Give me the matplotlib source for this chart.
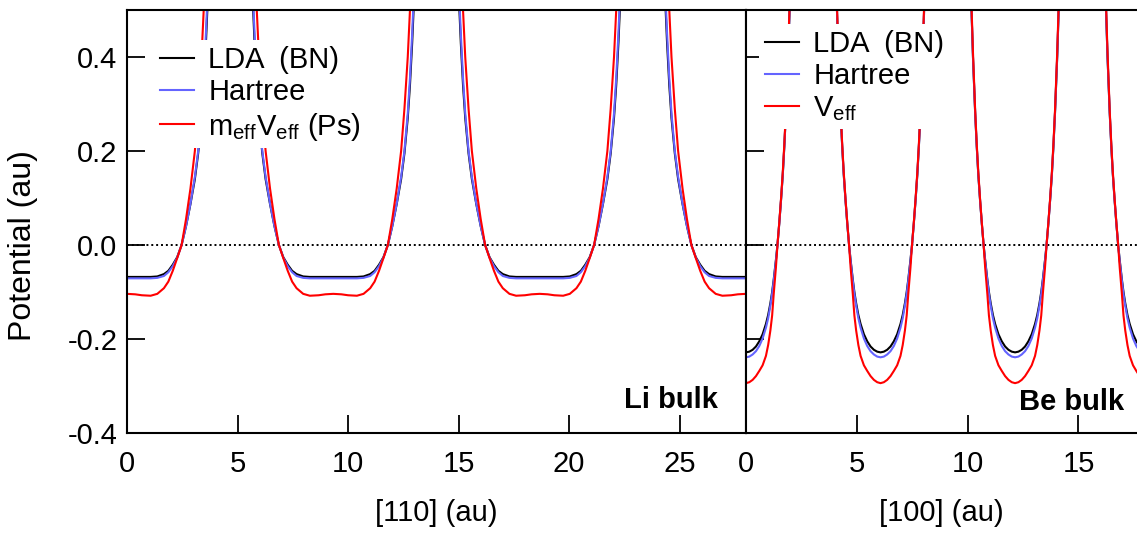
import matplotlib
matplotlib.use("Agg")
import matplotlib.pyplot as plt

plt.rcParams["font.family"] = ["Liberation Sans", "DejaVu Sans"]
plt.rcParams["mathtext.fontset"] = "custom"
plt.rcParams["mathtext.rm"] = "Liberation Sans"
plt.rcParams["mathtext.default"] = "rm"

# ---- Li bulk, [110] direction ----
li_x = [
    0.00, 0.37, 0.67, 1.07, 1.37, 1.67, 1.87, 2.07, 2.27, 2.47, 2.67, 2.87, 3.07, 3.22, 3.37, 3.47, 3.57, 3.67, 3.77,
    5.57, 5.67, 5.77, 5.87, 5.97, 6.12, 6.27, 6.47, 6.67, 6.87, 7.07, 7.27, 7.47, 7.67, 7.97, 8.27, 8.67, 8.97, 9.33,
    9.70, 10.00, 10.40, 10.70, 11.00, 11.20, 11.40, 11.60, 11.80, 12.00, 12.20, 12.40, 12.55, 12.70, 12.80, 12.90, 13.00, 13.10,
    14.90, 15.00, 15.10, 15.20, 15.30, 15.45, 15.60, 15.80, 16.00, 16.20, 16.40, 16.60, 16.80, 17.00, 17.30, 17.60, 18.00, 18.30, 18.67,
    19.03, 19.33, 19.73, 20.03, 20.33, 20.53, 20.73, 20.93, 21.13, 21.33, 21.53, 21.73, 21.88, 22.03, 22.13, 22.23, 22.33, 22.43,
    24.23, 24.33, 24.43, 24.53, 24.63, 24.78, 24.93, 25.13, 25.33, 25.53, 25.73, 25.93, 26.13, 26.33, 26.63, 26.93, 27.33, 27.63, 28.00,
]
li_lda = [
    -0.068, -0.068, -0.068, -0.068, -0.067, -0.062, -0.055, -0.042, -0.026, 0.000, 0.040, 0.087, 0.140, 0.195, 0.270, 0.340, 0.430, 0.540, 0.680,
    0.680, 0.540, 0.430, 0.340, 0.270, 0.195, 0.140, 0.087, 0.040, 0.000, -0.026, -0.042, -0.055, -0.062, -0.067, -0.068, -0.068, -0.068, -0.068,
    -0.068, -0.068, -0.068, -0.067, -0.062, -0.055, -0.042, -0.026, 0.000, 0.040, 0.087, 0.140, 0.195, 0.270, 0.340, 0.430, 0.540, 0.680,
    0.680, 0.540, 0.430, 0.340, 0.270, 0.195, 0.140, 0.087, 0.040, 0.000, -0.026, -0.042, -0.055, -0.062, -0.067, -0.068, -0.068, -0.068, -0.068,
    -0.068, -0.068, -0.068, -0.067, -0.062, -0.055, -0.042, -0.026, 0.000, 0.040, 0.087, 0.140, 0.195, 0.270, 0.340, 0.430, 0.540, 0.680,
    0.680, 0.540, 0.430, 0.340, 0.270, 0.195, 0.140, 0.087, 0.040, 0.000, -0.026, -0.042, -0.055, -0.062, -0.067, -0.068, -0.068, -0.068, -0.068,
]
li_hartree = [
    -0.071, -0.071, -0.071, -0.071, -0.070, -0.066, -0.058, -0.045, -0.027, 0.000, 0.040, 0.088, 0.145, 0.200, 0.280, 0.355, 0.450, 0.560, 0.700,
    0.700, 0.560, 0.450, 0.355, 0.280, 0.200, 0.145, 0.088, 0.040, 0.000, -0.027, -0.045, -0.058, -0.066, -0.070, -0.071, -0.071, -0.071, -0.071,
    -0.071, -0.071, -0.071, -0.070, -0.066, -0.058, -0.045, -0.027, 0.000, 0.040, 0.088, 0.145, 0.200, 0.280, 0.355, 0.450, 0.560, 0.700,
    0.700, 0.560, 0.450, 0.355, 0.280, 0.200, 0.145, 0.088, 0.040, 0.000, -0.027, -0.045, -0.058, -0.066, -0.070, -0.071, -0.071, -0.071, -0.071,
    -0.071, -0.071, -0.071, -0.070, -0.066, -0.058, -0.045, -0.027, 0.000, 0.040, 0.088, 0.145, 0.200, 0.280, 0.355, 0.450, 0.560, 0.700,
    0.700, 0.560, 0.450, 0.355, 0.280, 0.200, 0.145, 0.088, 0.040, 0.000, -0.027, -0.045, -0.058, -0.066, -0.070, -0.071, -0.071, -0.071, -0.071,
]
li_ps = [
    -0.104, -0.105, -0.107, -0.108, -0.104, -0.092, -0.078, -0.055, -0.028, 0.000, 0.055, 0.120, 0.200, 0.290, 0.400, 0.500, 0.630, 0.780, 0.950,
    0.950, 0.780, 0.630, 0.500, 0.400, 0.290, 0.200, 0.120, 0.055, 0.000, -0.028, -0.055, -0.078, -0.092, -0.104, -0.108, -0.107, -0.105, -0.104,
    -0.105, -0.107, -0.108, -0.104, -0.092, -0.078, -0.055, -0.028, 0.000, 0.055, 0.120, 0.200, 0.290, 0.400, 0.500, 0.630, 0.780, 0.950,
    0.950, 0.780, 0.630, 0.500, 0.400, 0.290, 0.200, 0.120, 0.055, 0.000, -0.028, -0.055, -0.078, -0.092, -0.104, -0.108, -0.107, -0.105, -0.104,
    -0.105, -0.107, -0.108, -0.104, -0.092, -0.078, -0.055, -0.028, 0.000, 0.055, 0.120, 0.200, 0.290, 0.400, 0.500, 0.630, 0.780, 0.950,
    0.950, 0.780, 0.630, 0.500, 0.400, 0.290, 0.200, 0.120, 0.055, 0.000, -0.028, -0.055, -0.078, -0.092, -0.104, -0.108, -0.107, -0.105, -0.104,
]

# ---- Be bulk, [100] direction ----
be_x = [
    0.00, 0.15, 0.30, 0.45, 0.60, 0.75, 0.90, 1.00, 1.10, 1.18, 1.25, 1.35, 1.42, 1.50, 1.58, 1.66, 1.73, 1.80, 1.90, 1.96, 2.10, 2.30,
    3.77, 3.97, 4.11, 4.17, 4.27, 4.34, 4.41, 4.49, 4.57, 4.65, 4.72, 4.82, 4.89, 4.97, 5.07, 5.17, 5.32, 5.47, 5.62, 5.77, 5.92, 6.07,
    6.22, 6.37, 6.52, 6.67, 6.82, 6.97, 7.07, 7.17, 7.25, 7.32, 7.42, 7.49, 7.57, 7.65, 7.73, 7.80, 7.87, 7.97, 8.03, 8.17, 8.37,
    9.84, 10.04, 10.18, 10.24, 10.34, 10.41, 10.48, 10.56, 10.64, 10.72, 10.79, 10.89, 10.96, 11.04, 11.14, 11.24, 11.39, 11.54, 11.69, 11.84, 11.99, 12.14,
    12.29, 12.44, 12.59, 12.74, 12.89, 13.04, 13.14, 13.24, 13.32, 13.39, 13.49, 13.56, 13.64, 13.72, 13.80, 13.87, 13.94, 14.04, 14.10, 14.24, 14.44,
    15.91, 16.11, 16.25, 16.31, 16.41, 16.48, 16.55, 16.63, 16.71, 16.79, 16.86, 16.96, 17.03, 17.11, 17.21, 17.31, 17.46, 17.61, 17.76,
]
be_lda = [
    -0.2285, -0.227, -0.223, -0.216, -0.205, -0.190, -0.168, -0.149, -0.124, -0.100, -0.074, -0.032, 0.000, 0.045, 0.095, 0.150, 0.210, 0.280, 0.400, 0.490, 0.750, 1.200,
    1.200, 0.750, 0.490, 0.400, 0.280, 0.210, 0.150, 0.095, 0.045, 0.000, -0.032, -0.074, -0.100, -0.124, -0.149, -0.168, -0.190, -0.205, -0.216, -0.223, -0.227, -0.2285,
    -0.227, -0.223, -0.216, -0.205, -0.190, -0.168, -0.149, -0.124, -0.100, -0.074, -0.032, 0.000, 0.045, 0.095, 0.150, 0.210, 0.280, 0.400, 0.490, 0.750, 1.200,
    1.200, 0.750, 0.490, 0.400, 0.280, 0.210, 0.150, 0.095, 0.045, 0.000, -0.032, -0.074, -0.100, -0.124, -0.149, -0.168, -0.190, -0.205, -0.216, -0.223, -0.227, -0.2285,
    -0.227, -0.223, -0.216, -0.205, -0.190, -0.168, -0.149, -0.124, -0.100, -0.074, -0.032, 0.000, 0.045, 0.095, 0.150, 0.210, 0.280, 0.400, 0.490, 0.750, 1.200,
    1.200, 0.750, 0.490, 0.400, 0.280, 0.210, 0.150, 0.095, 0.045, 0.000, -0.032, -0.074, -0.100, -0.124, -0.149, -0.168, -0.190, -0.205, -0.216,
]
be_hartree = [
    -0.239, -0.2375, -0.233, -0.226, -0.215, -0.199, -0.176, -0.156, -0.129, -0.104, -0.077, -0.034, 0.000, 0.045, 0.095, 0.150, 0.210, 0.280, 0.400, 0.490, 0.750, 1.200,
    1.200, 0.750, 0.490, 0.400, 0.280, 0.210, 0.150, 0.095, 0.045, 0.000, -0.034, -0.077, -0.104, -0.129, -0.156, -0.176, -0.199, -0.215, -0.226, -0.233, -0.2375, -0.239,
    -0.2375, -0.233, -0.226, -0.215, -0.199, -0.176, -0.156, -0.129, -0.104, -0.077, -0.034, 0.000, 0.045, 0.095, 0.150, 0.210, 0.280, 0.400, 0.490, 0.750, 1.200,
    1.200, 0.750, 0.490, 0.400, 0.280, 0.210, 0.150, 0.095, 0.045, 0.000, -0.034, -0.077, -0.104, -0.129, -0.156, -0.176, -0.199, -0.215, -0.226, -0.233, -0.2375, -0.239,
    -0.2375, -0.233, -0.226, -0.215, -0.199, -0.176, -0.156, -0.129, -0.104, -0.077, -0.034, 0.000, 0.045, 0.095, 0.150, 0.210, 0.280, 0.400, 0.490, 0.750, 1.200,
    1.200, 0.750, 0.490, 0.400, 0.280, 0.210, 0.150, 0.095, 0.045, 0.000, -0.034, -0.077, -0.104, -0.129, -0.156, -0.176, -0.199, -0.215, -0.226,
]
be_veff = [
    -0.294, -0.292, -0.287, -0.279, -0.268, -0.256, -0.236, -0.213, -0.182, -0.150, -0.105, -0.048, 0.000, 0.047, 0.098, 0.155, 0.215, 0.285, 0.410, 0.500, 0.770, 1.250,
    1.250, 0.770, 0.500, 0.410, 0.285, 0.215, 0.155, 0.098, 0.047, 0.000, -0.048, -0.105, -0.150, -0.182, -0.213, -0.236, -0.256, -0.268, -0.279, -0.287, -0.292, -0.294,
    -0.292, -0.287, -0.279, -0.268, -0.256, -0.236, -0.213, -0.182, -0.150, -0.105, -0.048, 0.000, 0.047, 0.098, 0.155, 0.215, 0.285, 0.410, 0.500, 0.770, 1.250,
    1.250, 0.770, 0.500, 0.410, 0.285, 0.215, 0.155, 0.098, 0.047, 0.000, -0.048, -0.105, -0.150, -0.182, -0.213, -0.236, -0.256, -0.268, -0.279, -0.287, -0.292, -0.294,
    -0.292, -0.287, -0.279, -0.268, -0.256, -0.236, -0.213, -0.182, -0.150, -0.105, -0.048, 0.000, 0.047, 0.098, 0.155, 0.215, 0.285, 0.410, 0.500, 0.770, 1.250,
    1.250, 0.770, 0.500, 0.410, 0.285, 0.215, 0.155, 0.098, 0.047, 0.000, -0.048, -0.105, -0.150, -0.182, -0.213, -0.236, -0.256, -0.268, -0.279,
]

y_ticks = [-0.4, -0.2, 0.0, 0.2, 0.4]
y_ticklabels = ["-0.4", "-0.2", "0.0", "0.2", "0.4"]
li_xticks = [0, 5, 10, 15, 20, 25]
be_xticks = [0, 5, 10, 15]

BLUE = "#6464ff"
RED = "#ff0000"
FS = 21

fig = plt.figure(figsize=(11.37, 5.35), dpi=100)
ax1 = fig.add_axes([0.1117, 0.1907, 0.5444, 0.7907])
ax2 = fig.add_axes([0.6561, 0.1907, 0.3439, 0.7907])


def style(ax, xmax, xticks):
    ax.set_xlim(0, xmax)
    ax.set_ylim(-0.4, 0.5)
    ax.axhline(0, color="black", ls=(0, (1, 1.5)), lw=1.4, zorder=1)
    ax.set_xticks(xticks)
    ax.set_yticks(y_ticks)
    ax.tick_params(direction="in", length=13, width=1.3, labelsize=FS)
    ax.tick_params(axis="x", pad=12)
    ax.tick_params(axis="y", pad=7)
    for s in ax.spines.values():
        s.set_linewidth(1.5)


# left panel: Li
ax1.plot(li_x, li_lda, color="black", lw=1.5, label="LDA  (BN)", zorder=2)
ax1.plot(li_x, li_hartree, color=BLUE, lw=1.5, label="Hartree", zorder=2)
ax1.plot(li_x, li_ps, color=RED, lw=1.5, label=r"$m_{eff}V_{eff}$ (Ps)", zorder=2)
style(ax1, 28.0, li_xticks)
ax1.set_yticklabels(y_ticklabels)
ax1.set_xlabel("[110] (au)", fontsize=FS)
ax1.xaxis.set_label_coords(0.5, -0.156)
ax1.set_ylabel("Potential (au)", fontsize=23)
ax1.yaxis.set_label_coords(-0.143, 0.444)
ax1.text(0.955, 0.059, "Li bulk", transform=ax1.transAxes, ha="right",
         va="baseline", fontsize=FS, fontweight="bold")
leg1 = ax1.legend(loc="upper left", bbox_to_anchor=(0.044, 0.929), fontsize=FS,
                  frameon=True, fancybox=False, framealpha=1, borderpad=0.2,
                  borderaxespad=0, handlelength=1.15, handletextpad=0.5,
                  labelspacing=0.15)
leg1.get_frame().set_edgecolor("none")

# right panel: Be
ax2.plot(be_x, be_lda, color="black", lw=1.5, label="LDA  (BN)", zorder=2)
ax2.plot(be_x, be_hartree, color=BLUE, lw=1.5, label="Hartree", zorder=2)
ax2.plot(be_x, be_veff, color=RED, lw=1.5, label=r"$V_{eff}$", zorder=2)
style(ax2, 17.64, be_xticks)
ax2.set_yticklabels([])
ax2.spines["right"].set_visible(False)
ax2.set_xlabel("[100] (au)", fontsize=FS)
ax2.xaxis.set_label_coords(0.5, -0.156)
ax2.text(0.967, 0.054, "Be bulk", transform=ax2.transAxes, ha="right",
         va="baseline", fontsize=FS, fontweight="bold")
leg2 = ax2.legend(loc="upper left", bbox_to_anchor=(0.034, 0.967), fontsize=FS,
                  frameon=True, fancybox=False, framealpha=1, borderpad=0.2,
                  borderaxespad=0, handlelength=1.15, handletextpad=0.5,
                  labelspacing=0.15)
leg2.get_frame().set_edgecolor("none")

fig.savefig("out.png", dpi=100)
